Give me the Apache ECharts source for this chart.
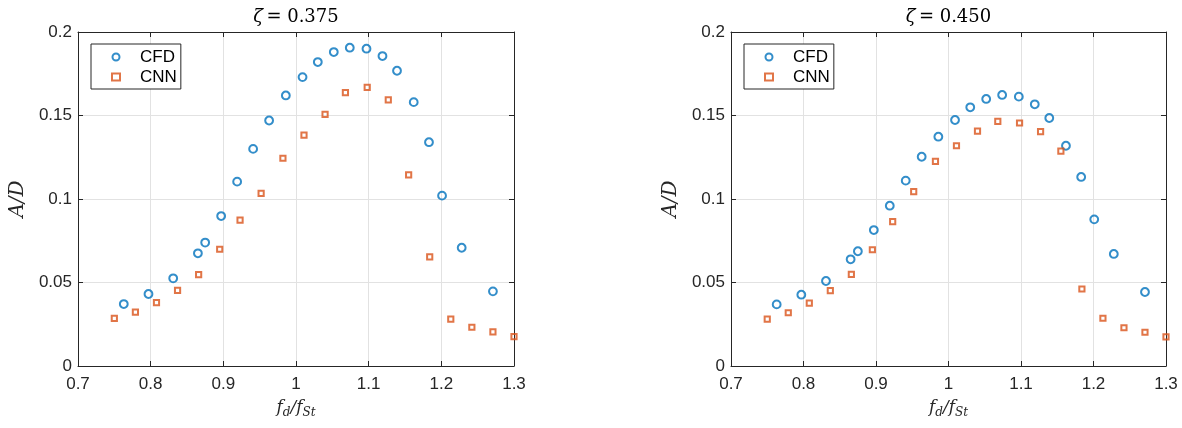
<!DOCTYPE html>
<html>
<head>
<meta charset="utf-8">
<script src="https://cdn.jsdelivr.net/npm/echarts@6/dist/echarts.min.js"></script>
<style>
html,body{margin:0;padding:0;background:#fff;}
#chart{width:1182px;height:428px;}
</style>
</head>
<body>
<div id="chart"></div>
<script>
// ---- data ----
const titles = ['0.375', '0.450'];
const seriesNames = ['CFD', 'CNN'];
const xTicks = [0.7, 0.8, 0.9, 1.0, 1.1, 1.2, 1.3];
const yTicks = [0, 0.05, 0.1, 0.15, 0.2];

const cfdX = [0.763,0.797,0.831,0.865,0.875,0.897,0.919,0.941,0.963,0.986,1.009,1.030,1.052,1.074,1.097,1.119,1.139,1.162,1.183,1.201,1.228,1.271];
const cfdA375 = [0.0371,0.0431,0.0525,0.0675,0.0739,0.0898,0.1104,0.130,0.147,0.162,0.173,0.182,0.188,0.1906,0.190,0.1856,0.1768,0.158,0.134,0.102,0.0708,0.0447];
const cfdA450 = [0.0369,0.0427,0.0509,0.0639,0.0687,0.0814,0.096,0.111,0.1253,0.1373,0.1473,0.1549,0.1599,0.1623,0.1613,0.1567,0.1485,0.1319,0.1132,0.0878,0.0671,0.0443];

const cnnX = [0.750,0.779,0.808,0.837,0.866,0.895,0.923,0.952,0.982,1.011,1.040,1.068,1.098,1.127,1.155,1.184,1.213,1.242,1.271,1.300];
const cnnA375 = [0.0285,0.0323,0.0379,0.0453,0.0547,0.0699,0.0874,0.1034,0.1244,0.1383,0.1507,0.1637,0.1669,0.1593,0.1144,0.0653,0.0281,0.0232,0.0204,0.0176];
const cnnA450 = [0.0281,0.0319,0.0377,0.0451,0.0549,0.0696,0.0864,0.1044,0.1225,0.1319,0.1407,0.1465,0.1455,0.1403,0.1287,0.0461,0.0286,0.0229,0.0202,0.0175];

// ---- build ----
const zip = (xs, ys) => xs.map((x, i) => [x, ys[i]]);
const BLUE = '#0072BD', ORANGE = '#D95319', AX = '#262626';
const SANS = "'Liberation Sans', Arial, Helvetica, sans-serif";
const SERIF = "'DejaVu Serif', serif";
const labelFont = {color: AX, fontFamily: SANS, fontSize: 17};

const grids = [
  {left: 78, top: 32, width: 436, height: 334},
  {left: 731, top: 32, width: 435, height: 334}
];
const panels = [
  {cfd: cfdA375, cnn: cnnA375},
  {cfd: cfdA450, cnn: cnnA450}
];

const xAxis = [], yAxis = [], series = [], legend = [], graphic = [];
grids.forEach((g, gi) => {
  const xmin = xTicks[0], xmax = xTicks[xTicks.length - 1];
  const ymin = yTicks[0], ymax = yTicks[yTicks.length - 1];
  const common = {
    gridIndex: gi,
    axisLine: {show: true, onZero: false, lineStyle: {color: AX, width: 1}},
    axisTick: {show: true, inside: true, length: 5, lineStyle: {color: AX}}
  };
  xAxis.push(Object.assign({}, common, {
    type: 'value', position: 'bottom', min: xmin, max: xmax, interval: 0.1,
    axisLabel: Object.assign({margin: 10}, labelFont),
    splitLine: {show: true, lineStyle: {color: '#e2e2e2', width: 1}},
    name: '{i|f}{s|d}{i|/f}{s|St}', nameLocation: 'middle', nameGap: 31,
    nameTextStyle: {
      rich: {
        i: {fontFamily: SERIF, fontStyle: 'italic', fontSize: 17, color: AX},
        s: {fontFamily: SERIF, fontStyle: 'italic', fontSize: 12, color: AX, verticalAlign: 'bottom', padding: [10, 0, 0, 0]}
      }
    }
  }));
  xAxis.push(Object.assign({}, common, {
    type: 'value', position: 'top', min: xmin, max: xmax, interval: 0.1,
    axisLabel: {show: false}, splitLine: {show: false}
  }));
  yAxis.push(Object.assign({}, common, {
    type: 'value', position: 'left', min: ymin, max: ymax, interval: 0.05,
    axisLabel: Object.assign({margin: 6}, labelFont),
    splitLine: {show: true, lineStyle: {color: '#e2e2e2', width: 1}},
    name: 'A/D', nameLocation: 'middle', nameGap: 50, nameRotate: 90,
    nameTextStyle: {fontFamily: SERIF, fontStyle: 'italic', fontSize: 20, color: AX}
  }));
  yAxis.push(Object.assign({}, common, {
    type: 'value', position: 'right', min: ymin, max: ymax, interval: 0.05,
    axisLabel: {show: false}, splitLine: {show: false}
  }));

  series.push({
    name: seriesNames[0], type: 'scatter', xAxisIndex: gi * 2, yAxisIndex: gi * 2,
    data: zip(cfdX, panels[gi].cfd), symbol: 'circle', symbolSize: 7.8, clip: false,
    itemStyle: {color: 'rgba(255,255,255,0)', borderColor: BLUE, borderWidth: 2},
    emphasis: {disabled: true}
  });
  series.push({
    name: seriesNames[1], type: 'scatter', xAxisIndex: gi * 2, yAxisIndex: gi * 2,
    data: zip(cnnX, panels[gi].cnn), symbol: 'rect', symbolSize: 5.2, clip: false,
    itemStyle: {color: 'rgba(255,255,255,0)', borderColor: ORANGE, borderWidth: 2},
    emphasis: {disabled: true}
  });

  legend.push({
    left: g.left + 13, top: 44, orient: 'vertical',
    data: [
      {name: seriesNames[0], icon: 'circle'},
      {name: seriesNames[1], icon: 'rect'}
    ],
    itemWidth: 8, itemHeight: 7, itemGap: 0,
    padding: [3, 4, 2, 20],
    borderColor: AX, borderWidth: 1, backgroundColor: '#fff', borderRadius: 0,
    textStyle: {color: '#000', fontFamily: SANS, fontSize: 17, lineHeight: 20, padding: [0, 0, 0, 15]},
    selectedMode: false
  });

  graphic.push({
    type: 'text', x: g.left + g.width / 2, y: 17,
    style: {
      text: '{z|ζ} {n|= ' + titles[gi] + '}',
      align: 'center', verticalAlign: 'middle',
      rich: {
        z: {fontFamily: SERIF, fontStyle: 'italic', fontSize: 18, fill: '#000'},
        n: {fontFamily: SERIF, fontSize: 18, fill: '#000'}
      }
    }
  });
});

const chart = echarts.init(document.getElementById('chart'), null, {renderer: 'canvas'});
chart.setOption({
  animation: false,
  backgroundColor: '#fff',
  grid: grids,
  xAxis, yAxis, series, legend, graphic
});
</script>
</body>
</html>
